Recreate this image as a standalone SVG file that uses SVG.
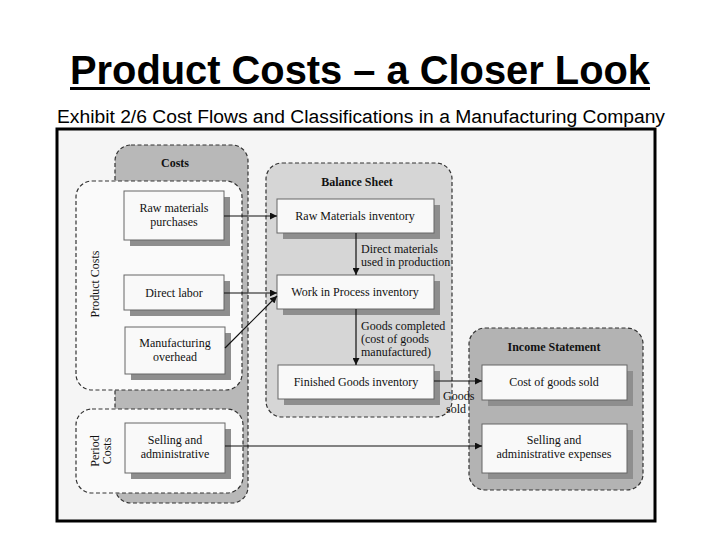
<svg xmlns="http://www.w3.org/2000/svg" width="720" height="540" viewBox="0 0 720 540">
<defs>
<style>
.title{font-family:"Liberation Sans",Arial,sans-serif;font-weight:bold;font-size:40px;fill:#000}
.sub{font-family:"Liberation Sans",Arial,sans-serif;font-size:18px;fill:#000}
.t{font-family:"Liberation Serif","Times New Roman",serif;font-size:12px;fill:#111}
.b{font-family:"Liberation Serif","Times New Roman",serif;font-size:12px;font-weight:bold;fill:#111}
.dash{stroke:#333;stroke-width:1.2;stroke-dasharray:4 2.5}
.box{fill:#f9f9f9;stroke:#666;stroke-width:1}
.shadow{fill:#8e8e8e}
.conn{stroke:#111;stroke-width:1.2;fill:none;marker-end:url(#ah)}
</style>
<marker id="ah" viewBox="0 0 10 10" refX="10" refY="5" markerWidth="8" markerHeight="7" orient="auto" markerUnits="userSpaceOnUse">
<path d="M0,0 L10,5 L0,10 z" fill="#111"/>
</marker>
</defs>
<rect width="720" height="540" fill="#fff"/>
<text class="title" x="360" y="84" text-anchor="middle" textLength="580" lengthAdjust="spacingAndGlyphs">Product Costs – a Closer Look</text>
<rect x="70" y="87" width="580" height="3" fill="#000"/>
<text class="sub" x="361" y="123" text-anchor="middle" textLength="608" lengthAdjust="spacingAndGlyphs">Exhibit 2/6 Cost Flows and Classifications in a Manufacturing Company</text>
<rect x="57" y="129" width="598" height="392" fill="#f5f5f5" stroke="#000" stroke-width="3"/>

<g id="costs">
<rect x="115" y="145" width="133" height="358" rx="16" fill="#b8b8b8" class="dash"/>
<text class="b" x="175" y="167" text-anchor="middle">Costs</text>
</g>
<g id="product-costs">
<rect x="76" y="181" width="166" height="209" rx="16" fill="#fafafa" class="dash"/>
<text class="t" transform="translate(99,284) rotate(-90)" text-anchor="middle">Product Costs</text>
</g>
<g id="period-costs">
<rect x="76" y="409" width="167" height="84" rx="16" fill="#fafafa" class="dash"/>
<text class="t" transform="translate(99,451) rotate(-90)" text-anchor="middle">Period</text>
<text class="t" transform="translate(111,451) rotate(-90)" text-anchor="middle">Costs</text>
</g>
<g id="balance-sheet">
<rect x="266" y="163" width="186" height="254" rx="16" fill="#d6d6d6" class="dash"/>
<text class="b" x="357" y="186" text-anchor="middle">Balance Sheet</text>
</g>
<g id="income-statement">
<rect x="469" y="328" width="174" height="162" rx="16" fill="#b3b3b3" class="dash"/>
<text class="b" x="554" y="351" text-anchor="middle">Income Statement</text>
</g>

<g id="raw-materials-purchases">
<rect class="shadow" x="130" y="197" width="100" height="49"/>
<rect class="box" x="124" y="191" width="100" height="49"/>
<text class="t" x="174" y="212" text-anchor="middle">Raw materials</text>
<text class="t" x="174" y="226" text-anchor="middle">purchases</text>
</g>
<g id="direct-labor">
<rect class="shadow" x="130" y="281" width="100" height="35"/>
<rect class="box" x="124" y="275" width="100" height="35"/>
<text class="t" x="174" y="297" text-anchor="middle">Direct labor</text>
</g>
<g id="manufacturing-overhead">
<rect class="shadow" x="131" y="333" width="100" height="47"/>
<rect class="box" x="125" y="327" width="100" height="47"/>
<text class="t" x="175" y="347" text-anchor="middle">Manufacturing</text>
<text class="t" x="175" y="361" text-anchor="middle">overhead</text>
</g>
<g id="selling-admin">
<rect class="shadow" x="131" y="429" width="100" height="50"/>
<rect class="box" x="125" y="423" width="100" height="50"/>
<text class="t" x="175" y="444" text-anchor="middle">Selling and</text>
<text class="t" x="175" y="458" text-anchor="middle">administrative</text>
</g>
<g id="raw-materials-inventory">
<rect class="shadow" x="283" y="205" width="157" height="34"/>
<rect class="box" x="277" y="199" width="157" height="34"/>
<text class="t" x="355" y="220" text-anchor="middle">Raw Materials inventory</text>
</g>
<g id="wip-inventory">
<rect class="shadow" x="283" y="281" width="157" height="34"/>
<rect class="box" x="277" y="275" width="157" height="34"/>
<text class="t" x="355" y="296" text-anchor="middle">Work in Process inventory</text>
</g>
<g id="finished-goods-inventory">
<rect class="shadow" x="284" y="371" width="156" height="34"/>
<rect class="box" x="278" y="365" width="156" height="34"/>
<text class="t" x="356" y="386" text-anchor="middle">Finished Goods inventory</text>
</g>
<g id="cost-of-goods-sold">
<rect class="shadow" x="488" y="371" width="145" height="35"/>
<rect class="box" x="482" y="365" width="145" height="35"/>
<text class="t" x="554" y="386" text-anchor="middle">Cost of goods sold</text>
</g>
<g id="selling-admin-expenses">
<rect class="shadow" x="488" y="430" width="145" height="49"/>
<rect class="box" x="482" y="424" width="145" height="49"/>
<text class="t" x="554" y="444" text-anchor="middle">Selling and</text>
<text class="t" x="554" y="458" text-anchor="middle">administrative expenses</text>
</g>

<g id="connectors">
<line class="conn" x1="224" y1="216" x2="277" y2="216"/>
<line class="conn" x1="224" y1="293" x2="277" y2="293"/>
<line class="conn" x1="225" y1="348" x2="277" y2="296"/>
<line class="conn" x1="356" y1="233" x2="356" y2="275"/>
<line class="conn" x1="356" y1="309" x2="356" y2="365"/>
<line class="conn" x1="434" y1="381" x2="482" y2="381"/>
<line class="conn" x1="225" y1="446" x2="482" y2="446"/>
<text class="t" x="361" y="253">Direct materials</text>
<text class="t" x="361" y="266">used in production</text>
<text class="t" x="361" y="330">Goods completed</text>
<text class="t" x="361" y="343">(cost of goods</text>
<text class="t" x="361" y="356">manufactured)</text>
<text class="t" x="443" y="400">Goods</text>
<text class="t" x="446" y="413">sold</text>
</g>
</svg>
